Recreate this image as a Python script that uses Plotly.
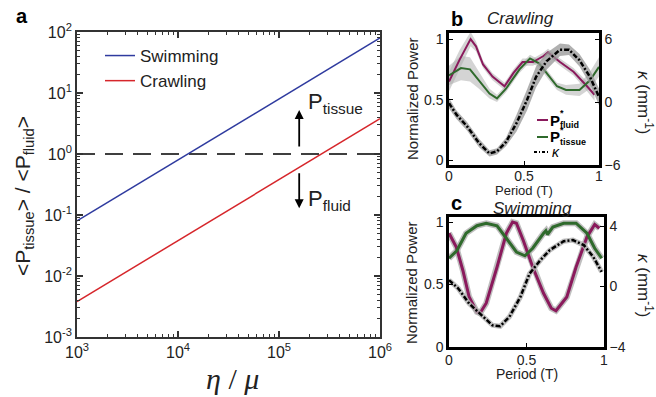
import plotly.graph_objects as go

# ---------------- data ----------------
# Panel a
eta_mu = [1e3, 1e4, 1e5, 1e6]
swimming_ratio = [0.08, 0.8, 8.0, 80.0]
crawling_ratio = [0.0038, 0.038, 0.38, 3.8]
ref_x = [1e3, 1e6]
ref_y = [1.0, 1.0]
a_xticks = [1e3, 1e4, 1e5, 1e6]
a_xticktext = ["10<sup>3</sup>", "10<sup>4</sup>", "10<sup>5</sup>", "10<sup>6</sup>"]
a_yticks = [1e-3, 1e-2, 1e-1, 1e0, 1e1, 1e2]
a_yticktext = ["10<sup>-3</sup>", "10<sup>-2</sup>", "10<sup>-1</sup>", "10<sup>0</sup>",
               "10<sup>1</sup>", "10<sup>2</sup>"]

# Panel b (Crawling)
b_t_fluid = [0, 0.071, 0.144, 0.18, 0.227, 0.29, 0.37, 0.43, 0.49, 0.56, 0.63, 0.66, 0.74, 0.83, 0.92, 0.97]
b_fluid = [0.65, 0.83, 1.0, 0.94, 0.79, 0.69, 0.61, 0.72, 0.81, 0.81, 0.86, 0.89, 0.81, 0.73, 0.61, 0.54]
b_fluid_err = [0.08, 0.08, 0.06, 0.04, 0.03, 0.03, 0.03, 0.03, 0.03, 0.03, 0.03, 0.03, 0.03, 0.03, 0.04, 0.05]
b_t_tissue = [0, 0.08, 0.14, 0.20, 0.27, 0.32, 0.38, 0.47, 0.54, 0.60, 0.66, 0.72, 0.78, 0.87, 0.94, 1.0]
b_tissue = [0.70, 0.76, 0.75, 0.66, 0.55, 0.51, 0.59, 0.75, 0.84, 0.80, 0.70, 0.61, 0.58, 0.58, 0.66, 0.77]
b_tissue_err = [0.08, 0.10, 0.10, 0.07, 0.04, 0.03, 0.03, 0.03, 0.03, 0.03, 0.03, 0.03, 0.04, 0.05, 0.07, 0.08]
b_t_kappa = [0, 0.05, 0.12, 0.20, 0.27, 0.32, 0.38, 0.45, 0.52, 0.58, 0.65, 0.74, 0.80, 0.87, 0.94, 1.0]
b_kappa = [-0.1, -1.2, -2.3, -3.9, -4.9, -4.7, -3.8, -2.0, 0.2, 2.4, 3.9, 5.0, 5.0, 4.0, 2.4, 0.5]
b_kappa_err = [0.5, 0.4, 0.4, 0.4, 0.3, 0.3, 0.4, 0.8, 1.0, 1.0, 0.8, 0.6, 0.5, 0.6, 0.7, 0.8]

# Panel c (Swimming)
c_t_fluid = [0, 0.047, 0.09, 0.13, 0.18, 0.20, 0.24, 0.31, 0.37, 0.41, 0.435, 0.48, 0.54, 0.61, 0.66, 0.69,
             0.76, 0.82, 0.89, 0.94, 0.97]
c_fluid = [0.91, 0.80, 0.61, 0.40, 0.28, 0.27, 0.35, 0.64, 0.91, 1.0, 0.99, 0.85, 0.64, 0.43, 0.31, 0.29,
           0.40, 0.64, 0.88, 0.98, 0.95]
c_t_tissue = [0, 0.05, 0.11, 0.18, 0.24, 0.31, 0.37, 0.435, 0.49, 0.54, 0.61, 0.625, 0.635, 0.67, 0.74, 0.82,
              0.89, 0.94, 0.985]
c_tissue = [0.71, 0.77, 0.91, 0.97, 0.99, 0.97, 0.87, 0.76, 0.73, 0.79, 0.91, 0.93, 0.90, 0.96, 0.99, 0.99,
            0.91, 0.79, 0.71]
c_t_kappa = [0, 0.06, 0.13, 0.22, 0.28, 0.33, 0.39, 0.46, 0.52, 0.59, 0.65, 0.74, 0.80, 0.87, 0.93, 0.985]
c_kappa = [0.42, -0.13, -1.13, -2.0, -2.56, -2.63, -2.0, -0.7, 0.86, 1.75, 2.41, 3.0, 3.07, 2.74, 1.97, 0.97]

FONT = "Liberation Sans, Arial, sans-serif"
PURPLE = "#8a1a5c"
GREEN = "#2f6a2c"
W, H = 656, 397
DASHDOT = "5px,2px,2px,2px"


def px_x(p):
    return p / W


def px_y(p):
    return 1 - p / H


def band(xs, ys, errs, xa, ya, color):
    upper = [y + e for y, e in zip(ys, errs)]
    lower = [y - e for y, e in zip(ys, errs)]
    return go.Scatter(x=list(xs) + list(xs)[::-1], y=upper + lower[::-1], fill="toself",
                      fillcolor=color, line=dict(width=0), mode="lines", hoverinfo="skip",
                      showlegend=False, xaxis=xa, yaxis=ya)


fig = go.Figure()

# ---- Panel a ----
fig.add_trace(go.Scatter(x=ref_x, y=ref_y, mode="lines", line=dict(color="black", width=1.5, dash="18px,10px"),
                         showlegend=False, xaxis="x", yaxis="y"))
fig.add_trace(go.Scatter(x=eta_mu, y=swimming_ratio, mode="lines", name="Swimming",
                         line=dict(color="#2f3b9f", width=1.5), xaxis="x", yaxis="y"))
fig.add_trace(go.Scatter(x=eta_mu, y=crawling_ratio, mode="lines", name="Crawling",
                         line=dict(color="#d6262b", width=1.5), xaxis="x", yaxis="y"))

# ---- Panel b ----
fig.add_trace(band(b_t_fluid, b_fluid, b_fluid_err, "x2", "y2", "rgba(170,170,170,0.5)"))
fig.add_trace(band(b_t_tissue, b_tissue, b_tissue_err, "x2", "y2", "rgba(170,170,170,0.5)"))
fig.add_trace(band(b_t_kappa, b_kappa, b_kappa_err, "x2", "y3", "rgba(150,150,150,0.75)"))
fig.add_trace(go.Scatter(x=b_t_fluid, y=b_fluid, mode="lines", showlegend=False,
                         line=dict(color=PURPLE, width=2), xaxis="x2", yaxis="y2"))
fig.add_trace(go.Scatter(x=b_t_tissue, y=b_tissue, mode="lines", showlegend=False,
                         line=dict(color=GREEN, width=2), xaxis="x2", yaxis="y2"))
fig.add_trace(go.Scatter(x=b_t_kappa, y=b_kappa, mode="lines", showlegend=False,
                         line=dict(color="black", width=2.5, dash=DASHDOT), xaxis="x2", yaxis="y3"))

# ---- Panel c ----
fig.add_trace(go.Scatter(x=c_t_kappa, y=c_kappa, mode="lines", line=dict(color="rgba(175,175,175,0.8)", width=5),
                         showlegend=False, xaxis="x3", yaxis="y5", hoverinfo="skip"))
fig.add_trace(go.Scatter(x=c_t_kappa, y=c_kappa, mode="lines", line=dict(color="black", width=2.5, dash=DASHDOT),
                         showlegend=False, xaxis="x3", yaxis="y5"))
fig.add_trace(go.Scatter(x=c_t_fluid, y=c_fluid, mode="lines", line=dict(color="rgba(175,175,175,0.8)", width=6),
                         showlegend=False, xaxis="x3", yaxis="y4", hoverinfo="skip"))
fig.add_trace(go.Scatter(x=c_t_tissue, y=c_tissue, mode="lines", line=dict(color="rgba(175,175,175,0.8)", width=6),
                         showlegend=False, xaxis="x3", yaxis="y4", hoverinfo="skip"))
fig.add_trace(go.Scatter(x=c_t_fluid, y=c_fluid, mode="lines", line=dict(color=PURPLE, width=3),
                         showlegend=False, xaxis="x3", yaxis="y4"))
fig.add_trace(go.Scatter(x=c_t_tissue, y=c_tissue, mode="lines", line=dict(color=GREEN, width=3),
                         showlegend=False, xaxis="x3", yaxis="y4"))

tick_font = dict(family=FONT, size=16, color="#222")
small_font = dict(family=FONT, size=14, color="#222")

axis_a = dict(showline=True, linecolor="#333", linewidth=1.8, mirror="ticks", ticks="inside", ticklen=6,
              tickcolor="#333", tickwidth=1.5, showgrid=False, zeroline=False, tickfont=tick_font,
              automargin=False,
              minor=dict(ticks="inside", ticklen=3, tickcolor="#333", tickwidth=1, showgrid=False, dtick="D1"))
axis_bc = dict(showline=True, linecolor="black", linewidth=2.5, mirror=True, ticks="inside", ticklen=4,
               tickcolor="black", showgrid=False, zeroline=False, tickfont=small_font, automargin=False)

fig.update_layout(
    template="none",
    width=W, height=H, margin=dict(l=0, r=0, t=0, b=0, pad=0, autoexpand=False),
    paper_bgcolor="white", plot_bgcolor="white",
    font=dict(family=FONT, color="#222"),
    showlegend=True,
    xaxis=dict(axis_a, type="log", range=[3, 6], domain=[px_x(77), px_x(380)], anchor="y",
               tickvals=a_xticks, ticktext=a_xticktext),
    yaxis=dict(axis_a, type="log", range=[-3, 2], domain=[px_y(337), px_y(32)], anchor="x",
               tickvals=a_yticks, ticktext=a_yticktext),
    xaxis2=dict(axis_bc, range=[0, 1], domain=[px_x(449), px_x(599)], anchor="y2",
                tickvals=[0, 0.5, 1], ticktext=["0", "0.5", "1"], ticklabelstandoff=-4),
    yaxis2=dict(axis_bc, range=[-0.04, 1.05], domain=[px_y(165), px_y(33)], anchor="x2",
                tickvals=[0, 0.5, 1], ticktext=["0", "0.5", "1"]),
    yaxis3=dict(axis_bc, range=[-6, 6.6], overlaying="y2", side="right", anchor="x2",
                tickvals=[-6, 0, 6], ticktext=["\u22126", "0", "6"], mirror=False),
    xaxis3=dict(axis_bc, range=[0, 1], domain=[px_x(449), px_x(604)], anchor="y4",
                tickvals=[0, 0.5, 1], ticktext=["0", "0.5", "1"], ticklabelstandoff=-2),
    yaxis4=dict(axis_bc, range=[0, 1.04], domain=[px_y(347), px_y(217)], anchor="x3",
                tickvals=[0, 0.5, 1], ticktext=["0", "0.5", "1"]),
    yaxis5=dict(axis_bc, range=[-4, 4.6], overlaying="y4", side="right", anchor="x3",
                tickvals=[-4, 0, 4], ticktext=["\u22124", "0", "4"], mirror=False),
    legend=dict(x=px_x(100), y=px_y(38), xanchor="left", yanchor="top", bgcolor="rgba(0,0,0,0)",
                font=dict(family=FONT, size=17, color="#222"), tracegroupgap=0, itemwidth=30),
)

ann = []
shapes = []


def text(t, x, y, size, xa="center", ya="middle", angle=0, family=FONT, color="#222"):
    ann.append(dict(text=t, x=px_x(x), y=px_y(y), xref="paper", yref="paper", showarrow=False,
                    xanchor=xa, yanchor=ya, textangle=angle, align="left",
                    font=dict(family=family, size=size, color=color)))


# panel labels
text("<b>a</b>", 14, 16, 20, xa="left", color="black")
text("<b>b</b>", 449, 19, 20, xa="left", color="black")
text("<b>c</b>", 449, 203, 20, xa="left", color="black")
# panel titles
text("<i>Crawling</i>", 520, 19, 17)
text("<i>Swimming</i>", 532, 208, 17)
# axis titles panel a
text("<P<sub>tissue</sub>> / <P<sub>fluid</sub>>", 24, 196, 21, angle=-90)
text("<i>η</i> / <i>μ</i>", 232, 378, 30, family="Liberation Serif, serif")
# axis titles panels b, c
text("Normalized Power", 412, 99, 15, angle=-90)
text("Normalized Power", 411, 282, 15, angle=-90)
text("<i>κ</i> (mm<sup>-1</sup>)", 645, 102, 17, angle=90)
text("<i>κ</i> (mm<sup>-1</sup>)", 645, 285, 17, angle=90)
text("Period (T)", 524, 190, 13)
text("Period (T)", 527, 374, 14)
# P labels panel a
text("P<sub>tissue</sub>", 306, 103, 22, xa="left")
text("P<sub>fluid</sub>", 306, 200, 22, xa="left")

# legend of panel b (drawn manually for compact layout)
leg_rows = [(120, PURPLE, "fluid"), (137, GREEN, "tissue")]
for yy, col, sub in leg_rows:
    shapes.append(dict(type="line", xref="paper", yref="paper", x0=px_x(537), x1=px_x(548),
                       y0=px_y(yy), y1=px_y(yy), line=dict(color=col, width=2)))
    text("<b>P</b>", 548, yy, 15, xa="left", color="black")
    text("<b>*<br>" + sub + "</b>", 558, yy - 1, 9, xa="left", color="black")
shapes.append(dict(type="line", xref="paper", yref="paper", x0=px_x(534), x1=px_x(548),
                   y0=px_y(152), y1=px_y(152), line=dict(color="black", width=2, dash="3px,2px,1px,2px")))
text("<i>κ</i>", 550, 152, 14, xa="left", color="black")

# arrows panel a
ann.append(dict(x=5.2, y=0.72, ax=5.2, ay=0.1, xref="x", yref="y", axref="x", ayref="y", text="",
                showarrow=True, arrowhead=2, arrowsize=1, arrowwidth=1.8, arrowcolor="black"))
ann.append(dict(x=5.2, y=-0.89, ax=5.2, ay=-0.29, xref="x", yref="y", axref="x", ayref="y", text="",
                showarrow=True, arrowhead=2, arrowsize=1, arrowwidth=1.8, arrowcolor="black"))

fig.update_layout(annotations=ann, shapes=shapes)
fig.write_html("out.html", post_script="document.body.style.margin='0px';",
               config={"displayModeBar": False})
